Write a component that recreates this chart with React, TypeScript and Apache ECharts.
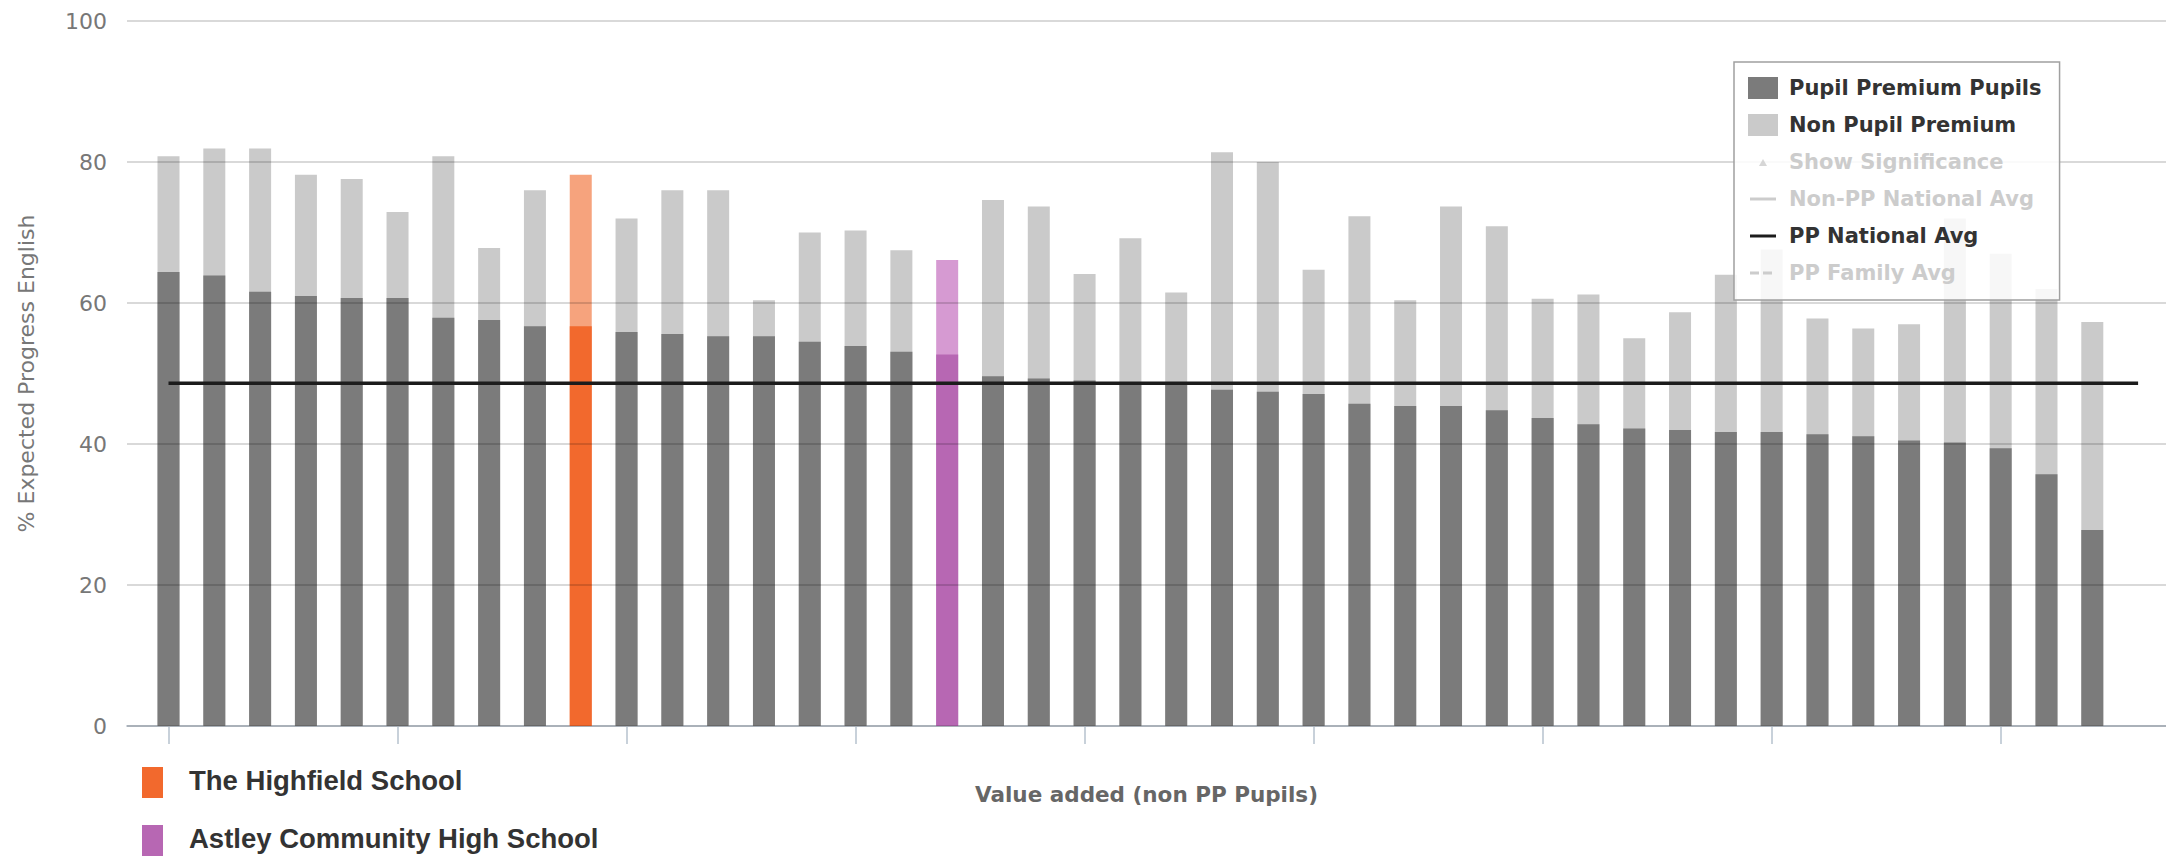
import React, { useEffect, useRef } from "react";
import * as echarts from "echarts";

// ---------- data ----------
const schools: string[] = [
  "School 01", "School 02", "School 03", "School 04", "School 05",
  "School 06", "School 07", "School 08", "School 09", "The Highfield School",
  "School 11", "School 12", "School 13", "School 14", "School 15",
  "School 16", "School 17", "Astley Community High School", "School 19", "School 20",
  "School 21", "School 22", "School 23", "School 24", "School 25",
  "School 26", "School 27", "School 28", "School 29", "School 30",
  "School 31", "School 32", "School 33", "School 34", "School 35",
  "School 36", "School 37", "School 38", "School 39", "School 40",
  "School 41", "School 42", "School 43",
];

// % expected progress, Pupil Premium pupils
const ppValues: number[] = [
  64.4, 63.9, 61.6, 61.0, 60.7, 60.7, 57.9, 57.6, 56.7, 56.7,
  55.9, 55.6, 55.3, 55.3, 54.5, 53.9, 53.1, 52.7, 49.6, 49.3,
  49.0, 48.7, 48.6, 47.7, 47.4, 47.1, 45.7, 45.4, 45.4, 44.8,
  43.7, 42.8, 42.2, 42.0, 41.7, 41.7, 41.4, 41.1, 40.5, 40.2,
  39.4, 35.7, 27.8,
];

// % expected progress, non Pupil Premium pupils
const nonPpValues: number[] = [
  80.8, 81.9, 81.9, 78.2, 77.6, 72.9, 80.8, 67.8, 76.0, 78.2,
  72.0, 76.0, 76.0, 60.4, 70.0, 70.3, 67.5, 66.1, 74.6, 73.7,
  64.1, 69.2, 61.5, 81.4, 80.0, 64.7, 72.3, 60.4, 73.7, 70.9,
  60.6, 61.2, 55.0, 58.7, 64.0, 67.6, 57.8, 56.4, 57.0, 72.0,
  67.0, 62.0, 57.3,
];

const ppNationalAvg = 48.6;

const yMin = 0;
const yMax = 100;
const yInterval = 20;

const highlightSchools = ["The Highfield School", "Astley Community High School"];

// ---------- styles ----------
const highlightColors: Record<string, { dark: string; light: string }> = {
  "The Highfield School": { dark: "#F2692D", light: "#F6A37D" },
  "Astley Community High School": { dark: "#B767B3", light: "#D69AD2" },
};
const ppColor = "#7b7b7b";
const nonPpColor = "#cacaca";
const axisBlue = "#c8d1da";

export default function App() {
  const ref = useRef<HTMLDivElement>(null);

  useEffect(() => {
    if (!ref.current) return;
    const chart = echarts.init(ref.current, undefined, { renderer: "svg" });

    // extra empty slot at the end (the average line reaches one category beyond the last bar)
    const axisSlots = [...schools, ""];

    const nonPpData = nonPpValues.map((v, i) => {
      const h = highlightColors[schools[i]];
      return h ? { value: v, itemStyle: { color: h.light } } : v;
    });
    const ppData = ppValues.map((v, i) => {
      const h = highlightColors[schools[i]];
      return h ? { value: v, itemStyle: { color: h.dark } } : v;
    });

    const triangleIcon = "path://M0,0M30,22M11,15L15,8L19,15Z";
    const lineIcon = "path://M0,0M30,22M2,9.5L28,9.5L28,12.5L2,12.5Z";
    const dashIcon = "path://M0,0M30,22M2,9.5L11,9.5L11,12.5L2,12.5ZM15,9.5L24,9.5L24,12.5L15,12.5Z";

    chart.setOption({
      animation: false,
      backgroundColor: "#ffffff",
      grid: [
        { left: 127, right: 0, top: 21, bottom: 131 },
        { left: 145.6, right: 5, top: 21, bottom: 131 },
      ],
      xAxis: [
        {
          type: "value",
          gridIndex: 0,
          min: 0,
          max: 1,
          axisLine: { show: true, lineStyle: { color: axisBlue, width: 2 } },
          axisTick: { show: false },
          axisLabel: { show: false },
          splitLine: { show: false },
          name: "Value added (non PP Pupils)",
          nameLocation: "middle",
          nameGap: 57,
          nameTextStyle: {
            color: "#666666",
            fontFamily: "DejaVu Sans",
            fontWeight: "bold",
            fontSize: 21.5,
          },
        },
        {
          type: "category",
          gridIndex: 1,
          data: axisSlots,
          boundaryGap: true,
          axisLine: { show: false },
          axisTick: {
            show: true,
            alignWithLabel: true,
            interval: 4,
            length: 18,
            lineStyle: { color: axisBlue, width: 2 },
          },
          axisLabel: { show: false },
        },
      ],
      yAxis: [
        {
          type: "value",
          gridIndex: 0,
          min: yMin,
          max: yMax,
          interval: yInterval,
          z: 3,
          axisLine: { show: false },
          axisTick: { show: false },
          axisLabel: {
            color: "#777777",
            fontFamily: "DejaVu Sans",
            fontSize: 22,
            margin: 20,
          },
          splitLine: { lineStyle: { color: "rgba(0,0,0,0.15)", width: 2 } },
          name: "% Expected Progress English",
          nameLocation: "middle",
          nameRotate: 90,
          nameGap: 90,
          nameTextStyle: {
            color: "#777777",
            fontFamily: "DejaVu Sans",
            fontSize: 22,
          },
        },
        {
          type: "value",
          gridIndex: 1,
          min: yMin,
          max: yMax,
          show: false,
        },
      ],
      legend: {
        orient: "vertical",
        left: 1734,
        top: 62,
        padding: [15, 18, 16, 14],
        itemGap: 15,
        itemWidth: 30,
        itemHeight: 22,
        backgroundColor: "rgba(255,255,255,0.85)",
        borderColor: "#a0a0a0",
        borderWidth: 1.5,
        inactiveColor: "#cccccc",
        textStyle: {
          color: "#333333",
          fontFamily: "DejaVu Sans",
          fontWeight: "bold",
          fontSize: 21,
          padding: [0, 0, 0, 6],
        },
        selected: {
          "Show Significance": false,
          "Non-PP National Avg": false,
          "PP Family Avg": false,
        },
        data: [
          { name: "Pupil Premium Pupils", icon: "rect" },
          { name: "Non Pupil Premium", icon: "rect" },
          { name: "Show Significance", icon: triangleIcon },
          { name: "Non-PP National Avg", icon: lineIcon },
          { name: "PP National Avg", icon: lineIcon },
          { name: "PP Family Avg", icon: dashIcon },
        ],
      },
      series: [
        {
          name: "Non Pupil Premium",
          type: "bar",
          xAxisIndex: 1,
          yAxisIndex: 1,
          barWidth: 22,
          barGap: "-100%",
          itemStyle: { color: nonPpColor },
          data: nonPpData,
          z: 2,
        },
        {
          name: "Pupil Premium Pupils",
          type: "bar",
          xAxisIndex: 1,
          yAxisIndex: 1,
          barWidth: 22,
          barGap: "-100%",
          itemStyle: { color: ppColor },
          data: ppData,
          z: 2,
        },
        {
          name: "Show Significance",
          type: "scatter",
          xAxisIndex: 1,
          yAxisIndex: 1,
          symbol: "triangle",
          itemStyle: { color: "#555555" },
          data: [],
        },
        {
          name: "Non-PP National Avg",
          type: "line",
          xAxisIndex: 1,
          yAxisIndex: 1,
          symbol: "none",
          lineStyle: { color: "#999999", width: 3 },
          itemStyle: { color: "#999999" },
          data: [],
        },
        {
          name: "PP National Avg",
          type: "line",
          xAxisIndex: 1,
          yAxisIndex: 1,
          symbol: "none",
          lineStyle: { color: "#1c1c1c", width: 3.5 },
          itemStyle: { color: "#1c1c1c" },
          z: 5,
          data: [
            [0, ppNationalAvg],
            [axisSlots.length - 1, ppNationalAvg],
          ],
        },
        {
          name: "PP Family Avg",
          type: "line",
          xAxisIndex: 1,
          yAxisIndex: 1,
          symbol: "none",
          lineStyle: { color: "#999999", width: 3, type: "dashed" },
          itemStyle: { color: "#999999" },
          data: [],
        },
      ],
      graphic: [
        {
          type: "rect",
          left: 142,
          top: 767,
          shape: { width: 21, height: 31 },
          style: { fill: highlightColors[highlightSchools[0]].dark },
        },
        {
          type: "text",
          left: 189,
          top: 766,
          style: {
            text: highlightSchools[0],
            fill: "#333333",
            fontFamily: "Liberation Sans",
            fontWeight: "bold",
            fontSize: 27.5,
          },
        },
        {
          type: "rect",
          left: 142,
          top: 825,
          shape: { width: 21, height: 31 },
          style: { fill: highlightColors[highlightSchools[1]].dark },
        },
        {
          type: "text",
          left: 189,
          top: 824,
          style: {
            text: highlightSchools[1],
            fill: "#333333",
            fontFamily: "Liberation Sans",
            fontWeight: "bold",
            fontSize: 27.5,
          },
        },
      ],
    });

    return () => chart.dispose();
  }, []);

  return (
    <div
      ref={ref}
      style={{ position: "fixed", left: 0, top: 0, width: 2166, height: 857 }}
    />
  );
}
